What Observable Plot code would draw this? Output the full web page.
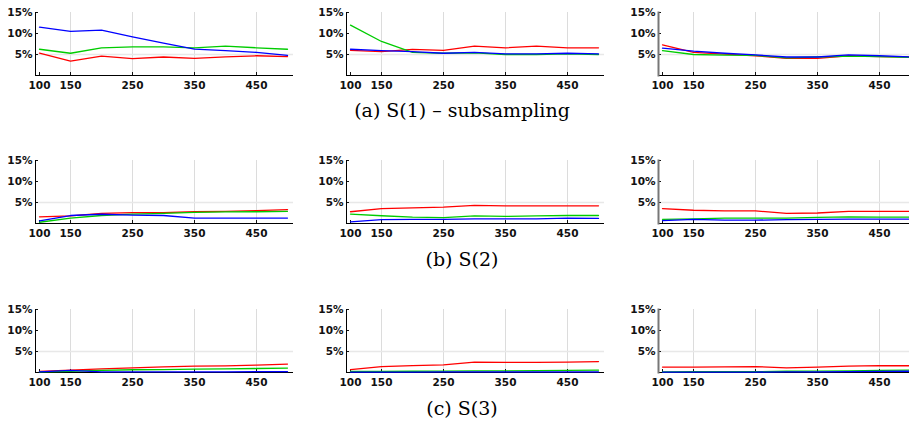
<!DOCTYPE html>
<html><head><meta charset="utf-8">
<script src="https://cdn.jsdelivr.net/npm/d3@7"></script>
<script src="https://cdn.jsdelivr.net/npm/@observablehq/plot@0.6"></script>
<style>
body{margin:0;background:#fff}
#wrap{position:relative;width:909px;height:426px;overflow:hidden;background:#fff}
.panel{position:absolute;width:300px;height:95px}
.panel svg{max-width:none}
.cap{position:absolute;transform:translate(-50%,-50%);font-family:"DejaVu Serif";font-size:19px;white-space:nowrap;color:#000}
</style></head><body><div id="wrap"></div>
<script>
const sizes = [100,150,200,250,300,350,400,450,500];
const xTicks = [100,150,250,350,450];
const xGrid = [150,250,350,450];
const yTicks = [5,10,15];
const yGrid = [5];
const captions = ["(a) S(1) – subsampling","(b) S(2)","(c) S(3)"];
const seriesNames = ["series 1","series 2","series 3"];
const seriesColors = ["#ff0000","#00cc00","#0000ff"];

// row (a)
const a1Red   = [5.3,3.4,4.6,4.0,4.4,4.1,4.45,4.7,4.5];
const a1Green = [6.25,5.3,6.6,6.8,6.8,6.6,7.0,6.6,6.25];
const a1Blue  = [11.5,10.5,10.8,9.2,7.7,6.3,5.9,5.5,4.8];
const a2Red   = [6.0,5.7,6.2,6.0,7.0,6.6,7.0,6.6,6.6];
const a2Green = [12.0,8.1,5.5,5.3,5.4,5.0,5.0,5.15,5.0];
const a2Blue  = [6.25,5.9,5.7,5.3,5.5,5.15,5.15,5.3,5.15];
const a3Red   = [7.3,5.5,5.1,4.7,4.1,4.1,4.7,4.5,4.4];
const a3Green = [5.9,5.0,4.85,4.8,4.2,4.4,4.6,4.5,4.3];
const a3Blue  = [6.5,5.8,5.3,4.9,4.4,4.4,4.9,4.7,4.4];
// row (b)
const b1Red   = [1.6,1.8,2.4,2.6,2.6,2.8,2.9,3.05,3.3];
const b1Green = [0.3,1.3,1.9,2.25,2.4,2.65,2.75,2.8,2.9];
const b1Blue  = [0.65,1.9,2.2,2.0,1.9,1.3,1.3,1.3,1.3];
const b2Red   = [2.8,3.55,3.7,3.9,4.3,4.2,4.2,4.2,4.2];
const b2Green = [2.25,1.85,1.5,1.4,1.8,1.7,1.8,1.9,1.9];
const b2Blue  = [0.4,0.9,1.0,1.0,1.1,1.1,1.1,1.3,1.2];
const b3Red   = [3.55,3.15,3.0,3.0,2.4,2.5,2.9,2.9,2.9];
const b3Green = [1.0,1.1,1.3,1.3,1.3,1.45,1.6,1.5,1.5];
const b3Blue  = [0.7,1.0,0.8,0.8,0.9,1.0,1.05,1.05,1.05];
// row (c)
const c1Red   = [0.25,0.55,0.85,1.1,1.35,1.5,1.6,1.75,2.0];
const c1Green = [0.15,0.3,0.5,0.65,0.7,0.8,0.85,0.95,1.05];
const c1Blue  = [0.15,0.5,0.15,0.15,0.15,0.15,0.15,0.2,0.2];
const c2Red   = [0.7,1.4,1.65,1.8,2.45,2.4,2.4,2.45,2.6];
const c2Green = [0.25,0.25,0.3,0.35,0.4,0.4,0.45,0.5,0.55];
const c2Blue  = [0.1,0.1,0.1,0.15,0.15,0.15,0.15,0.15,0.15];
const c3Red   = [1.3,1.3,1.35,1.4,1.1,1.3,1.5,1.65,1.6];
const c3Green = [0.15,0.2,0.2,0.2,0.3,0.35,0.4,0.5,0.55];
const c3Blue  = [0.1,0.1,0.1,0.1,0.15,0.15,0.2,0.25,0.3];

const panels = [
  [[a1Red,a1Green,a1Blue],[a2Red,a2Green,a2Blue],[a3Red,a3Green,a3Blue]],
  [[b1Red,b1Green,b1Blue],[b2Red,b2Green,b2Blue],[b3Red,b3Green,b3Blue]],
  [[c1Red,c1Green,c1Blue],[c2Red,c2Green,c2Blue],[c3Red,c3Green,c3Blue]]
];

const colLeft = [0,311,623];
const rowTop = [0,148,297];
const capY = [110,259,408];
const wrap = document.getElementById("wrap");

panels.forEach((row, r) => {
  row.forEach((series, c) => {
    const data = [];
    series.forEach((vals, s) => vals.forEach((v, i) => data.push({size: sizes[i], value: v, series: seriesNames[s]})));
    const chart = Plot.plot({
      width: 300, height: 95,
      marginLeft: 35, marginRight: 7, marginTop: 12, marginBottom: 20,
      x: {domain: [100,500], insetLeft: 4, insetRight: 6, label: null},
      y: {domain: [0,15], label: null},
      color: {domain: seriesNames, range: seriesColors},
      style: {fontFamily: "DejaVu Sans", fontSize: "10.5px", fontWeight: "bold", color: "#111", background: "transparent", overflow: "visible", maxWidth: "none"},
      marks: [
        Plot.gridX(xGrid, {stroke: "#dcdcdc", strokeOpacity: 1}),
        Plot.gridY(yGrid, {stroke: "#e8e8e8", strokeWidth: 1.5, strokeOpacity: 1}),
        Plot.axisX(xTicks, {tickSize: 0, tickPadding: 6}),
        Plot.axisX(xTicks, {tickSize: 3, dy: -3, tickFormat: () => ""}),
        Plot.axisY(yTicks, {tickSize: 0, tickPadding: 3, tickFormat: d => d + "%"}),
        Plot.axisY(yTicks, {tickSize: 3, dx: 3, tickFormat: () => ""}),
        Plot.ruleY([0], {stroke: "#000"}),
        Plot.frame({anchor: "left", stroke: c === 2 ? "#777" : "#000", strokeWidth: c === 2 ? 2 : 1}),
        Plot.line(data, {x: "size", y: "value", z: "series", stroke: "series", strokeWidth: 1.3})
      ]
    });
    const div = document.createElement("div");
    div.className = "panel";
    div.style.left = colLeft[c] + "px";
    div.style.top = rowTop[r] + "px";
    div.appendChild(chart);
    wrap.appendChild(div);
  });
  const cap = document.createElement("div");
  cap.className = "cap";
  cap.style.left = "462px";
  cap.style.top = capY[r] + "px";
  cap.textContent = captions[r];
  wrap.appendChild(cap);
});
</script></body></html>
